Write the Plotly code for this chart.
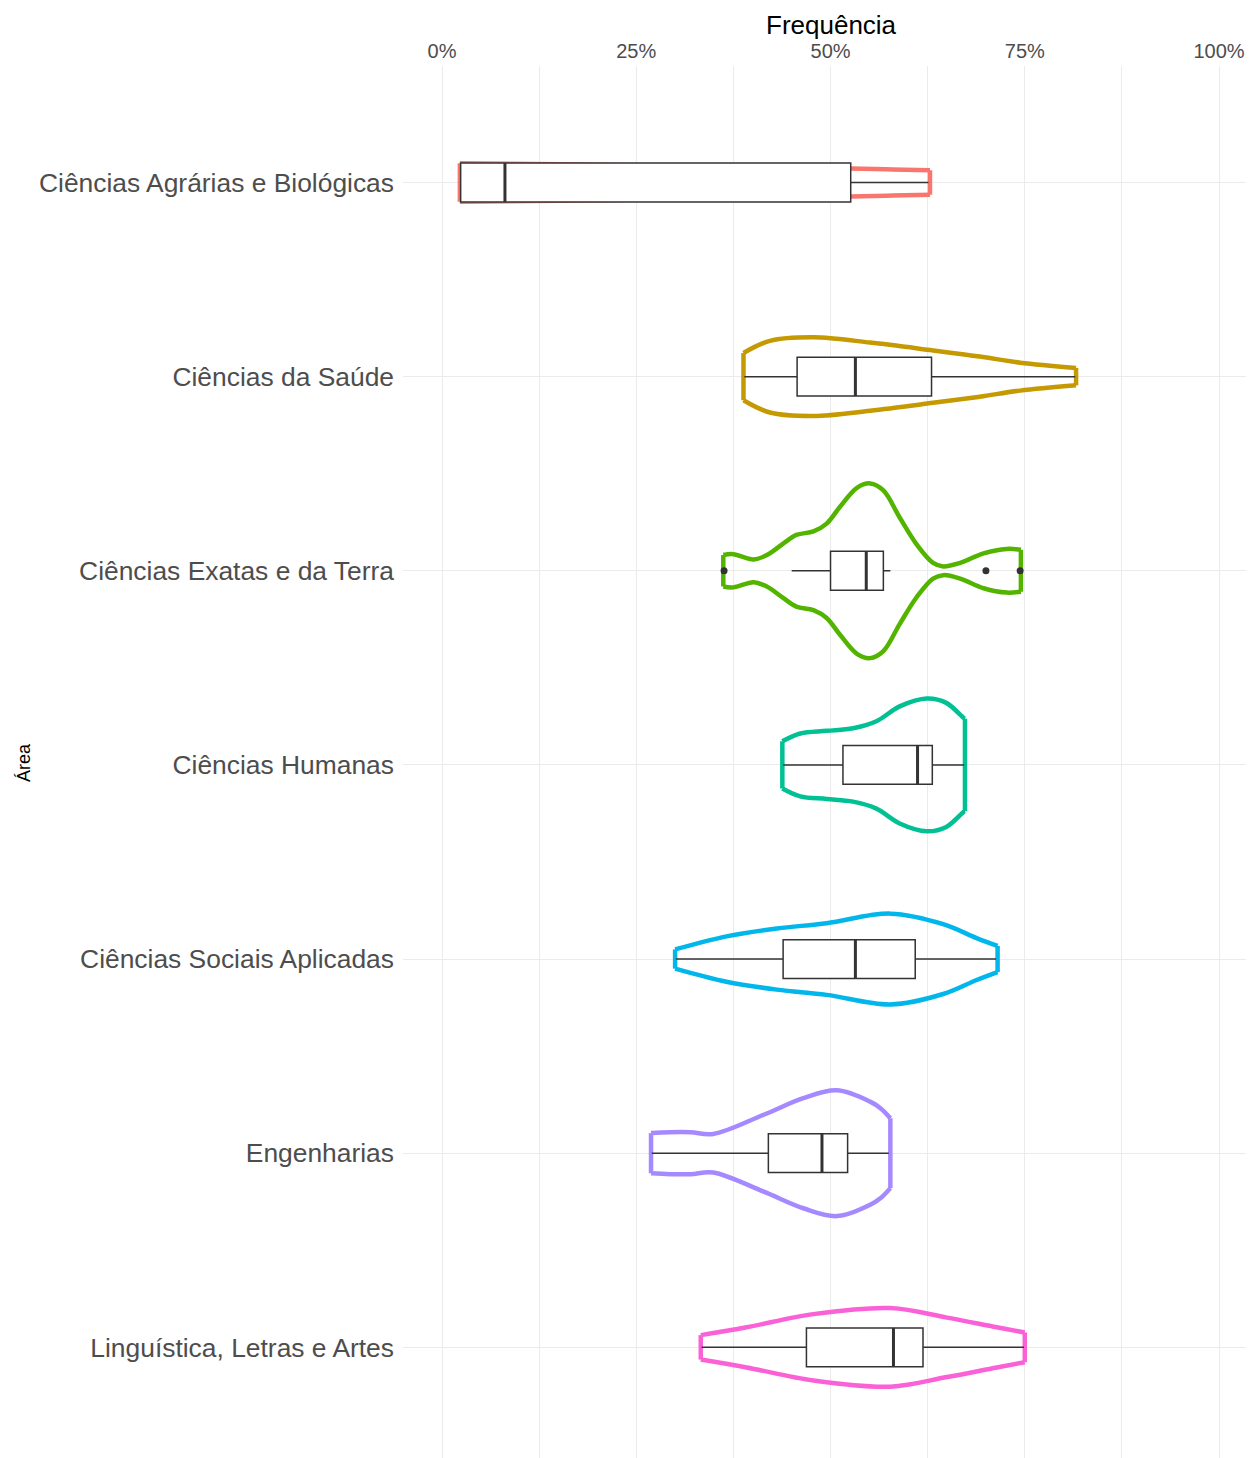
import plotly.graph_objects as go

# areas (top to bottom)
areas = ["Ciências Agrárias e Biológicas", "Ciências da Saúde", "Ciências Exatas e da Terra",
         "Ciências Humanas", "Ciências Sociais Aplicadas", "Engenharias",
         "Linguística, Letras e Artes"]
cores = ["#F8766D", "#C49A00", "#53B400", "#00C094", "#00B6EB", "#A58AFF", "#FB61D7"]

# violin profiles: frequency (%) and relative density (1 = widest)
viol_x = [
    [2.3, 15, 30, 45, 52.6, 58, 62.8],
    [38.8, 42.2, 47.8, 55.1, 63.2, 69.2, 74.4, 81.6],
    [36.2, 37.5, 40.1, 41.8, 43.9, 45.6, 47.8, 49.5, 51.2, 53.4, 55.1, 56.8, 58.9, 61.1,
     63.2, 64.5, 66.7, 69.7, 72.7, 74.5],
    [43.8, 46.1, 49.5, 52.9, 55.9, 58.9, 62.4, 64.9, 67.1, 67.3],
    [30.0, 36.6, 43.1, 49.5, 57.7, 64.5, 68.8, 71.5],
    [26.9, 29.3, 32, 34.9, 41.4, 46.5, 50.8, 55.1, 56.5, 57.7],
    [33.3, 39.2, 47.8, 57.7, 65.0, 71.4, 75.0],
]
viol_d = [
    [0.22, 0.21, 0.19, 0.17, 0.16, 0.15, 0.14],
    [0.27, 0.41, 0.45, 0.39, 0.30, 0.23, 0.16, 0.10],
    [0.18, 0.19, 0.13, 0.18, 0.31, 0.41, 0.45, 0.54, 0.73, 0.95, 1.0, 0.92, 0.61, 0.30,
     0.09, 0.05, 0.09, 0.20, 0.25, 0.24],
    [0.27, 0.36, 0.39, 0.42, 0.50, 0.67, 0.76, 0.71, 0.54, 0.53],
    [0.11, 0.26, 0.35, 0.41, 0.52, 0.40, 0.24, 0.15],
    [0.23, 0.24, 0.24, 0.22, 0.44, 0.63, 0.72, 0.59, 0.51, 0.40],
    [0.14, 0.23, 0.38, 0.45, 0.34, 0.23, 0.17],
]

# boxplot stats (%)
lower = [2.3, 38.9, 45.0, 43.9, 30.1, 27.0, 33.4]
q1 = [2.4, 45.7, 50.0, 51.6, 43.9, 42.0, 46.9]
mediana = [8.1, 53.2, 54.6, 61.2, 53.2, 48.9, 58.1]
q3 = [52.6, 63.0, 56.8, 63.1, 60.9, 52.2, 61.9]
upper = [62.6, 81.5, 57.7, 67.2, 71.3, 57.5, 74.9]

# outliers
out_area = [3, 3, 3]
out_x = [36.3, 70.0, 74.4]

fig = go.Figure()

meia = 0.45
lw = 4.5
for i, nome in enumerate(areas):
    c = i + 1
    xs = viol_x[i]
    ds = viol_d[i]
    cima = [c - d * meia for d in ds]
    baixo = [c + d * meia for d in ds]
    for yy in (cima, baixo):
        fig.add_trace(go.Scatter(x=xs, y=yy, mode="lines",
                                 line=dict(color=cores[i], width=lw, shape="spline", smoothing=1),
                                 hoverinfo="skip", showlegend=False))
    # flat ends
    for k in (0, -1):
        fig.add_trace(go.Scatter(x=[xs[k], xs[k]], y=[cima[k], baixo[k]], mode="lines",
                                 line=dict(color=cores[i], width=lw),
                                 hoverinfo="skip", showlegend=False))

# boxes go on an overlaying axis so they sit above the violins
for i, nome in enumerate(areas):
    c = i + 1
    fig.add_trace(go.Box(y=[c], q1=[q1[i]], median=[mediana[i]], q3=[q3[i]],
                         lowerfence=[lower[i]], upperfence=[upper[i]],
                         orientation="h", width=0.2, whiskerwidth=0,
                         fillcolor="white", line=dict(color="#333333", width=1.5),
                         boxpoints=False, showlegend=False, name=nome, yaxis="y2"))
    # thicker median line like ggplot
    fig.add_trace(go.Scatter(x=[mediana[i], mediana[i]], y=[c - 0.1, c + 0.1], mode="lines",
                             line=dict(color="#333333", width=3), hoverinfo="skip",
                             showlegend=False, yaxis="y2"))

fig.add_trace(go.Scatter(x=out_x, y=out_area, mode="markers",
                         marker=dict(color="#333333", size=7), showlegend=False, yaxis="y2"))

fig.update_layout(
    width=1246, height=1450,
    margin=dict(l=395, r=0, t=58, b=0),
    plot_bgcolor="white", paper_bgcolor="white",
    font=dict(family="Liberation Sans, Arial, sans-serif", color="#4D4D4D"),
    showlegend=False,
    xaxis=dict(
        side="top", range=[-5.02, 104.5],
        tickvals=[0, 25, 50, 75, 100], ticktext=["0%", "25%", "50%", "75%", "100%"],
        tickfont=dict(size=20, color="#4D4D4D"), ticklabelstandoff=3,
        showgrid=True, gridcolor="#EBEBEB", gridwidth=1.3, zeroline=False,
        minor=dict(tickvals=[12.5, 37.5, 62.5, 87.5], showgrid=True, gridcolor="#EBEBEB", gridwidth=1),
        ticks="", showline=False,
    ),
    yaxis=dict(
        range=[7.57, 0.4],
        tickvals=list(range(1, len(areas) + 1)), ticktext=areas,
        tickfont=dict(size=26.4, color="#4D4D4D"), ticklabelstandoff=8,
        showgrid=True, gridcolor="#EBEBEB", gridwidth=1.3, zeroline=False,
        ticks="", showline=False,
    ),
    yaxis2=dict(
        range=[7.57, 0.4], overlaying="y", visible=False, showgrid=False, zeroline=False,
    ),
    annotations=[
        dict(text="Frequência", xref="paper", yref="paper", x=0.503, y=1.0295,
             xanchor="center", yanchor="middle", showarrow=False,
             font=dict(size=26, color="black")),
        dict(text="Área", xref="paper", yref="paper", x=-0.4454, y=0.5,
             xanchor="center", yanchor="middle", textangle=-90, showarrow=False,
             font=dict(size=18, color="black")),
    ],
)

fig.write_html("out.html")
